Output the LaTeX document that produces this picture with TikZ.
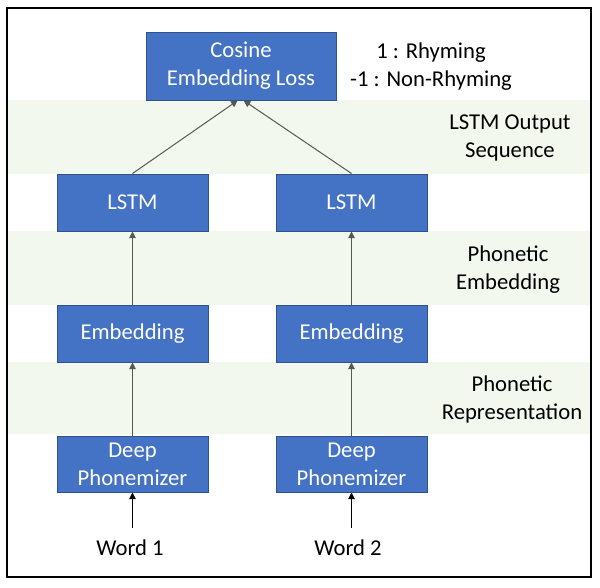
\documentclass[tikz,border=0pt]{standalone}
\usepackage{fontspec}
\setmainfont{Carlito}
\usetikzlibrary{arrows.meta}
\definecolor{boxblue}{HTML}{4472C4}
\definecolor{boxborder}{HTML}{2F528F}
\definecolor{bandgreen}{HTML}{F3F8EE}
\definecolor{arrowgray}{HTML}{525A52}
\tikzset{
  blockbox/.style={rectangle, fill=boxblue, draw=boxborder, line width=0.75pt, text=white, align=center, inner sep=0pt, minimum width=113.25pt},
  lbl/.style={align=center, inner sep=0pt, text=black},
  flow/.style={draw=arrowgray, line width=0.75pt, -{Triangle[width=5pt,length=5pt]}},
  inflow/.style={draw=black, line width=0.75pt, -{Triangle[width=5pt,length=5pt]}},
}
\begin{document}
\begin{tikzpicture}[x=0.75pt, y=-0.75pt, font=\fontsize{17}{21}\selectfont]
\useasboundingbox (0,0) rectangle (600,587);
% bands
\fill[bandgreen] (7,100) rectangle (591,174);
\fill[bandgreen] (7,231) rectangle (591,305);
\fill[bandgreen] (7,362) rectangle (591,434);
% frame
\draw[black, line width=0.9pt] (7,8) rectangle (591,577);
% boxes
\node[blockbox, minimum width=142.5pt, minimum height=51pt] (loss) at (241,66) {Cosine\\Embedding Loss};
\node[blockbox, minimum height=42.75pt] (lstm1) at (132.5,202.5) {LSTM};
\node[blockbox, minimum height=42.75pt] (lstm2) at (351.5,202.5) {LSTM};
\node[blockbox, minimum height=42.75pt] (emb1) at (132.5,333.5) {Embedding};
\node[blockbox, minimum height=42.75pt] (emb2) at (351.5,333.5) {Embedding};
\node[blockbox, minimum height=42pt] (deep1) at (132.5,464) {Deep\\Phonemizer};
\node[blockbox, minimum height=42pt] (deep2) at (351.5,464) {Deep\\Phonemizer};
% words
\node[lbl] (word1) at (130,548) {Word 1};
\node[lbl] (word2) at (348,548) {Word 2};
\coordinate (w1) at (132.5,528);
\coordinate (w2) at (351.5,528);
% labels
\node[lbl] (rhyme) at (431,67) {1 : Rhyming\\-1 : Non-Rhyming};
\node[lbl] (lstmout) at (510,138) {LSTM Output\\Sequence};
\node[lbl] (phonemb) at (508,270) {Phonetic\\Embedding};
\node[lbl] (phonrep) at (512,399) {Phonetic\\Representation};
% arrows
\draw[flow] (lstm1.north) -- ([xshift=-2.5pt]loss.south);
\draw[flow] (lstm2.north) -- ([xshift=2pt]loss.south);
\draw[flow] (emb1.north) -- (lstm1.south);
\draw[flow] (emb2.north) -- (lstm2.south);
\draw[flow] (deep1.north) -- (emb1.south);
\draw[flow] (deep2.north) -- (emb2.south);
\draw[inflow] (w1) -- (deep1.south);
\draw[inflow] (w2) -- (deep2.south);
\end{tikzpicture}
\end{document}
